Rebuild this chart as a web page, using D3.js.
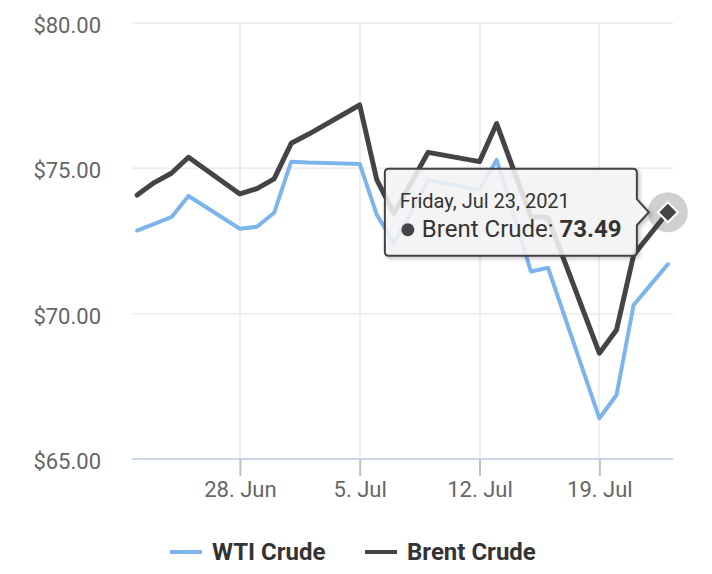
<!DOCTYPE html>
<html>
<head>
<meta charset="utf-8">
<script src="https://cdn.jsdelivr.net/npm/d3@7"></script>
<style>
	html, body { margin: 0; padding: 0; background: #ffffff; }
	svg { display: block; font-family: Roboto, "Noto Sans", sans-serif; }
</style>
</head>
<body>
<div id="chart"></div>
<script>
var dates = ["2021-06-22", "2021-06-23", "2021-06-24", "2021-06-25", "2021-06-28", "2021-06-29",
	"2021-06-30", "2021-07-01", "2021-07-02", "2021-07-05", "2021-07-06", "2021-07-07",
	"2021-07-08", "2021-07-09", "2021-07-12", "2021-07-13", "2021-07-14", "2021-07-15",
	"2021-07-16", "2021-07-19", "2021-07-20", "2021-07-21", "2021-07-22", "2021-07-23"];

var wti = [72.86, 73.09, 73.32, 74.05, 72.92, 72.99, 73.47, 75.23, 75.20, 75.15, 73.40, 72.42,
	73.50, 74.60, 74.26, 75.29, 73.40, 71.45, 71.58, 66.40, 67.20, 70.30, 71.00, 71.70];

var brent = [74.08, 74.51, 74.83, 75.38, 74.12, 74.30, 74.64, 75.86, 76.17, 77.18, 74.60, 73.45,
	74.50, 75.55, 75.23, 76.54, 74.93, 73.34, 73.30, 68.64, 69.44, 72.02, 72.76, 73.49];

var seriesNames = ["WTI Crude", "Brent Crude"];
var seriesColors = ["#7cb5ec", "#434348"];
var yTicks = [65, 70, 75, 80];

chart('#chart');

function chart(id) {
	var width = 712;
	var height = 574;
	var plot = { left: 132, right: 673, top: 23, bottom: 459 };

	var parse = d3.timeParse("%Y-%m-%d");
	var days = dates.map(parse);
	var pad = 0.3 * 864e5;

	var x = d3.scaleTime()
		.domain([new Date(+days[0] - pad), new Date(+days[days.length - 1] + pad)])
		.range([plot.left, plot.right]);

	var y = d3.scaleLinear()
		.domain([65, 80])
		.range([plot.bottom, plot.top]);

	var svg = d3.select(id).append("svg")
		.attr("width", width)
		.attr("height", height);

	createShadowFilter(svg);

	var xTicks = x.ticks(d3.timeMonday.every(1));

	// grid
	svg.append("g").selectAll("line")
		.data(xTicks)
		.join("line")
		.attr("x1", d => Math.round(x(d))).attr("x2", d => Math.round(x(d)))
		.attr("y1", plot.top).attr("y2", plot.bottom)
		.attr("stroke", "#eeeeee")
		.attr("stroke-width", 2);

	svg.append("g").selectAll("line")
		.data(yTicks.filter(d => d > 65))
		.join("line")
		.attr("x1", plot.left).attr("x2", plot.right)
		.attr("y1", d => y(d)).attr("y2", d => y(d))
		.attr("stroke", "#eeeeee")
		.attr("stroke-width", 2);

	// y labels
	svg.append("g").selectAll("text")
		.data(yTicks)
		.join("text")
		.attr("x", 101)
		.attr("y", d => y(d) + 10)
		.attr("text-anchor", "end")
		.attr("fill", "#666666")
		.style("font-size", "22px")
		.text(d => "$" + d3.format(".2f")(d));

	// x axis
	var xAxis = d3.axisBottom(x)
		.tickValues(xTicks)
		.tickFormat(d3.timeFormat("%-d. %b"))
		.tickSize(17)
		.tickPadding(5);

	var gx = svg.append("g")
		.attr("transform", "translate(0," + plot.bottom + ")")
		.call(xAxis);

	gx.select(".domain")
		.attr("d", "M" + plot.left + ",0H" + plot.right)
		.attr("stroke", "#ccd6eb")
		.attr("stroke-width", 2);

	gx.selectAll(".tick line")
		.attr("stroke", "#c0c0c0")
		.attr("stroke-width", 2);

	gx.selectAll(".tick text")
		.attr("fill", "#666666")
		.style("font-size", "22px")
		.style("font-family", "Roboto, sans-serif");

	// lines
	var line = d3.line()
		.x((d, i) => x(days[i]))
		.y(d => y(d));

	svg.append("path")
		.datum(wti)
		.attr("d", line)
		.attr("fill", "none")
		.attr("stroke", seriesColors[0])
		.attr("stroke-width", 4)
		.attr("stroke-linejoin", "round")
		.attr("stroke-linecap", "round");

	svg.append("path")
		.datum(brent)
		.attr("d", line)
		.attr("fill", "none")
		.attr("stroke", seriesColors[1])
		.attr("stroke-width", 5)
		.attr("stroke-linejoin", "round")
		.attr("stroke-linecap", "round");

	// hovered point
	var last = brent.length - 1;
	var px = x(days[last]);
	var py = y(brent[last]);

	svg.append("circle")
		.attr("cx", px).attr("cy", py)
		.attr("r", 20)
		.attr("fill", seriesColors[1])
		.attr("fill-opacity", 0.25);

	svg.append("path")
		.attr("d", "M" + px + "," + (py - 10) + "L" + (px + 10) + "," + py +
			"L" + px + "," + (py + 10) + "L" + (px - 10) + "," + py + "Z")
		.attr("fill", seriesColors[1])
		.attr("stroke", "#ffffff")
		.attr("stroke-width", 2);

	createTooltip(svg, px, py, days[last], brent[last]);

	// legend
	var legend = svg.append("g");
	var legendX = [170, 365];
	seriesNames.forEach(function(name, i) {
		legend.append("line")
			.attr("x1", legendX[i]).attr("x2", legendX[i] + 32)
			.attr("y1", 552).attr("y2", 552)
			.attr("stroke", seriesColors[i])
			.attr("stroke-width", 4);

		legend.append("text")
			.attr("x", legendX[i] + 42)
			.attr("y", 560)
			.attr("fill", "#333333")
			.style("font-size", "24px")
			.style("font-weight", "bold")
			.text(name);
	});
}

function createTooltip(svg, px, py, day, value) {
	var w = 252;
	var h = 87;
	var right = px - 31;
	var left = right - w;
	var top = py - h / 2;
	var bottom = py + h / 2;
	var r = 4;

	var g = svg.append("g");

	g.append("path")
		.attr("d", "M" + (left + r) + "," + top +
			"H" + (right - r) + "Q" + right + "," + top + " " + right + "," + (top + r) +
			"V" + (py - 13) + "L" + (right + 12) + "," + py + "L" + right + "," + (py + 13) +
			"V" + (bottom - r) + "Q" + right + "," + bottom + " " + (right - r) + "," + bottom +
			"H" + (left + r) + "Q" + left + "," + bottom + " " + left + "," + (bottom - r) +
			"V" + (top + r) + "Q" + left + "," + top + " " + (left + r) + "," + top + "Z")
		.attr("fill", "#f7f7f7")
		.attr("fill-opacity", 0.85)
		.attr("stroke", seriesColors[1])
		.attr("stroke-width", 2)
		.style("filter", "url(#drop-shadow)");

	g.append("text")
		.attr("x", left + 15)
		.attr("y", top + 39)
		.attr("fill", "#333333")
		.style("font-size", "20px")
		.text(d3.timeFormat("%A, %b %-d, %Y")(day));

	g.append("circle")
		.attr("cx", left + 23)
		.attr("cy", top + 61)
		.attr("r", 6.5)
		.attr("fill", seriesColors[1]);

	var t = g.append("text")
		.attr("x", left + 37)
		.attr("y", top + 68)
		.attr("fill", "#333333")
		.style("font-size", "24px");

	t.append("tspan").text(seriesNames[1] + ": ");
	t.append("tspan").style("font-weight", "bold").text(d3.format(".2f")(value));
}

function createShadowFilter(svg) {
	var defs = svg.append("defs");

	var filter = defs.append("filter")
		.attr("id", "drop-shadow")
		.attr("x", "-10%").attr("y", "-10%")
		.attr("width", "130%").attr("height", "140%");

	filter.append("feGaussianBlur")
		.attr("in", "SourceAlpha")
		.attr("stdDeviation", 2);

	filter.append("feOffset")
		.attr("dx", 2)
		.attr("dy", 2)
		.attr("result", "offsetBlur");

	var feTransfer = filter.append("feComponentTransfer");
	feTransfer.append("feFuncA")
		.attr("type", "linear")
		.attr("slope", 0.25);

	var feMerge = filter.append("feMerge");
	feMerge.append("feMergeNode");
	feMerge.append("feMergeNode")
		.attr("in", "SourceGraphic");
}
</script>
</body>
</html>
